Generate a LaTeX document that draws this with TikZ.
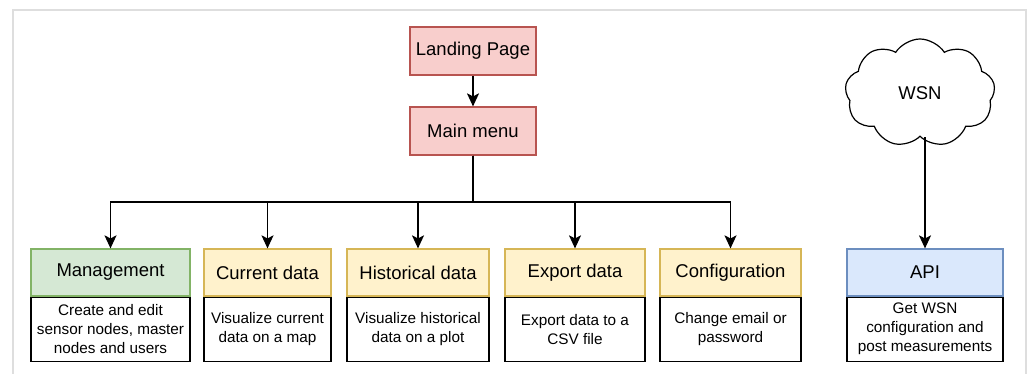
\documentclass[tikz,border=0pt]{standalone}
\usepackage{fontspec}
\setmainfont{Liberation Sans}
\usetikzlibrary{arrows.meta,positioning,shapes.symbols}
\definecolor{MenuRed}{HTML}{F8CECC}
\definecolor{MenuRedDark}{HTML}{B85450}
\definecolor{MgmtGreen}{HTML}{D5E8D4}
\definecolor{MgmtGreenDark}{HTML}{82B366}
\definecolor{PageYellow}{HTML}{FFF2CC}
\definecolor{PageYellowDark}{HTML}{D6B656}
\definecolor{ApiBlue}{HTML}{DAE8FC}
\definecolor{ApiBlueDark}{HTML}{6C8EBF}
\definecolor{FrameGray}{HTML}{DEDEDE}

\begin{document}
\begin{tikzpicture}[x=1pt,y=-1pt,line width=1.2pt,
    arr/.style={-{Stealth[length=13pt,width=12pt,inset=3pt]}, line width=1.3pt},
    menubox/.style={draw=MenuRedDark, fill=MenuRed, minimum width=126pt, minimum height=48pt, font=\fontsize{18.5}{22}\selectfont},
    head/.style={minimum height=47pt, font=\fontsize{18.5}{22}\selectfont},
    body/.style={draw=black, fill=white, minimum height=64pt, align=center, font=\fontsize{15.3}{19}\selectfont}]
  \useasboundingbox (0,0) rectangle (1030,374);
  \draw[FrameGray, line width=2pt] (13,385) |- (1026,10) -- (1026,385);

  % top of the menu tree
  \node[menubox] (landing) at (473,51) {Landing Page};
  \node[menubox] (main) at (473,131) {Main menu};
  \draw[arr] (landing) -- (main);

  % pages
  \node[head, draw=MgmtGreenDark, fill=MgmtGreen, minimum width=159pt] (mgmt) at (110.5,272.5) {Management};
  \node[head, draw=PageYellowDark, fill=PageYellow, minimum width=127pt] (current) at (267.5,272.5) {Current data};
  \node[head, draw=PageYellowDark, fill=PageYellow, minimum width=142pt] (hist) at (418,272.5) {Historical data};
  \node[head, draw=PageYellowDark, fill=PageYellow, minimum width=140pt] (export) at (575,272.5) {Export data};
  \node[head, draw=PageYellowDark, fill=PageYellow, minimum width=141pt] (config) at (730.5,272.5) {Configuration};
  \node[head, draw=ApiBlueDark, fill=ApiBlue, minimum width=156pt] (api) at (925,272.5) {API};

  \node[body, minimum width=159pt, below=0pt of mgmt] (mgmtbody) {Create and edit\\sensor nodes, master\\nodes and users};
  \node[body, minimum width=127pt, below=0pt of current] (currentbody) {Visualize current\\data on a map};
  \node[body, minimum width=142pt, below=0pt of hist] (histbody) {Visualize historical\\data on a plot};
  \node[body, minimum width=140pt, below=0pt of export] (exportbody) {Export data to a\\CSV file};
  \node[body, minimum width=141pt, below=0pt of config] (configbody) {Change email or\\password};
  \node[body, minimum width=156pt, below=0pt of api] (apibody) {Get WSN\\configuration and\\post measurements};

  \coordinate (bus) at (473,202);
  \foreach \page in {mgmt,current,hist,export,config}
    \draw[arr] (main.south) -- (bus) -| (\page.north);

  % sensor network
  \node[cloud, draw, cloud puffs=9, cloud puff arc=115, aspect=1.4, minimum width=150pt, minimum height=108pt, font=\fontsize{18.5}{22}\selectfont] (wsn) at (920,93) {WSN};
  \draw[arr] (api.north |- wsn.south) -- (api.north);
\end{tikzpicture}
\end{document}
